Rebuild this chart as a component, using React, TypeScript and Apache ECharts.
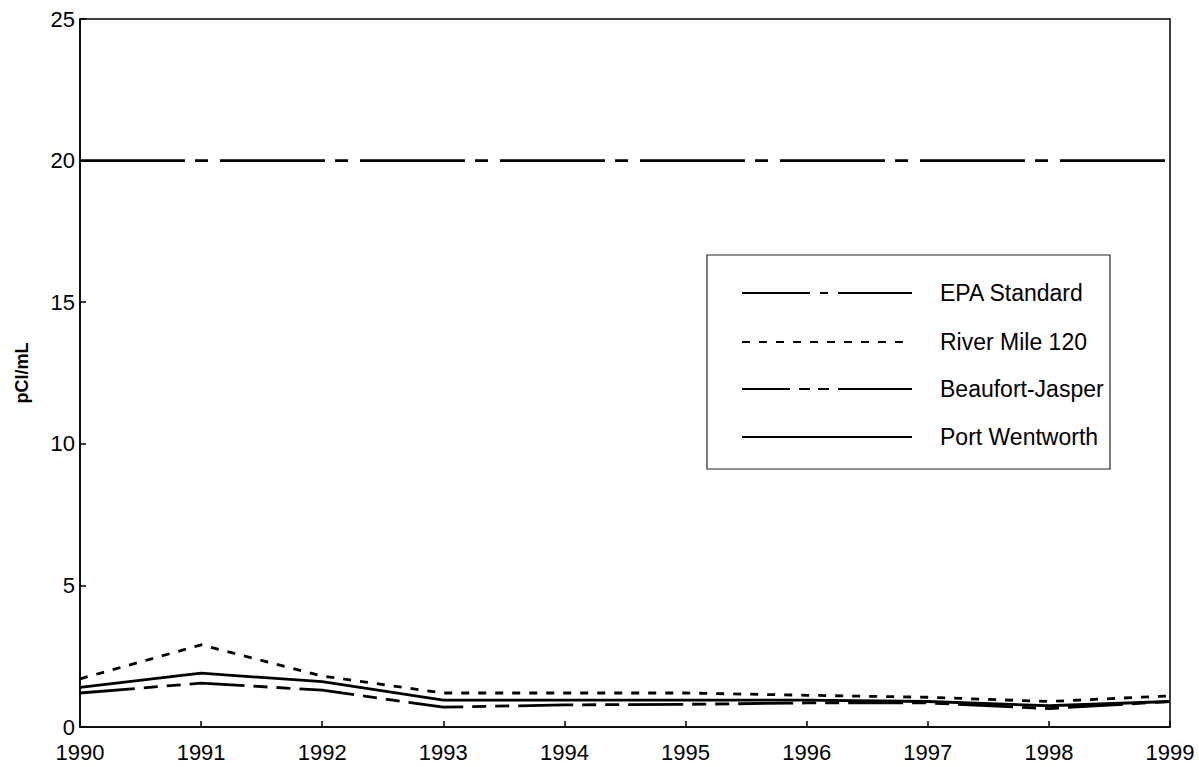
import React, { useEffect, useRef } from "react";
import * as echarts from "echarts";

const years = [1990, 1991, 1992, 1993, 1994, 1995, 1996, 1997, 1998, 1999];
const epaStandard = [20, 20, 20, 20, 20, 20, 20, 20, 20, 20];
const riverMile120 = [1.7, 2.9, 1.8, 1.2, 1.2, 1.2, 1.12, 1.05, 0.9, 1.1];
const beaufortJasper = [1.2, 1.55, 1.3, 0.7, 0.78, 0.8, 0.85, 0.85, 0.65, 0.9];
const portWentworth = [1.4, 1.9, 1.6, 0.95, 0.95, 0.95, 0.95, 0.9, 0.75, 0.9];
const seriesNames = ["EPA Standard", "River Mile 120", "Beaufort-Jasper", "Port Wentworth"];
const yTicks = [0, 5, 10, 15, 20, 25];

const FONT = "'Liberation Sans', Arial, Helvetica, sans-serif";

export default function App() {
  const ref = useRef<HTMLDivElement>(null);
  useEffect(() => {
    if (!ref.current) return;
    const chart = echarts.init(ref.current, undefined, { renderer: "svg" });
    const pair = (vals: number[]) => years.map((y, i) => [y, vals[i]]);
    const dashes: any[] = [
      [105, 10, 13, 12],
      [8, 9],
      [55, 9, 14, 9, 14, 9],
      "solid",
    ];
    const legendDashes: any[] = [
      [68, 10, 8, 10, 74],
      [8, 9],
      [48, 9, 11, 8, 11, 9, 74],
      [],
    ];
    const allVals = [epaStandard, riverMile120, beaufortJasper, portWentworth];
    const legendY = [293, 342, 389, 437];
    const graphics: any[] = [
      {
        type: "rect",
        shape: { x: 707, y: 255, width: 403, height: 214 },
        style: { fill: "#fff", stroke: "#222", lineWidth: 1.2 },
        z: 10,
      },
    ];
    seriesNames.forEach((n, i) => {
      graphics.push({
        type: "line",
        shape: { x1: 742, y1: legendY[i], x2: 912, y2: legendY[i] },
        style: { stroke: "#000", lineWidth: 1.8, lineDash: legendDashes[i] },
        z: 11,
      });
      graphics.push({
        type: "text",
        x: 940,
        y: legendY[i],
        style: {
          text: n,
          fill: "#000",
          font: `23px ${FONT}`,
          textVerticalAlign: "middle",
          verticalAlign: "middle",
        },
        z: 11,
      });
    });
    chart.setOption({
      animation: false,
      backgroundColor: "#fff",
      grid: {
        left: 80,
        right: 29,
        top: 19,
        bottom: 40,
        show: true,
        borderColor: "#000",
        borderWidth: 1.5,
        containLabel: false,
        outerBoundsMode: "none",
      },
      xAxis: {
        type: "value",
        min: 1990,
        max: 1999,
        interval: 1,
        axisLine: { show: true, lineStyle: { color: "#000", width: 1.5 } },
        axisTick: { show: true, inside: true, length: 6, lineStyle: { color: "#000", width: 1.5 } },
        axisLabel: {
          color: "#000",
          fontSize: 22,
          fontFamily: FONT,
          margin: 14,
          formatter: (v: number) => String(v),
        },
        splitLine: { show: false },
      },
      yAxis: {
        type: "value",
        min: 0,
        max: 25,
        interval: 5,
        name: "pCI/mL",
        nameLocation: "middle",
        nameGap: 49,
        nameRotate: 90,
        nameTextStyle: { color: "#000", fontSize: 18, fontWeight: "bold", fontFamily: FONT },
        axisLine: { show: true, lineStyle: { color: "#000", width: 1.5 } },
        axisTick: { show: true, inside: true, length: 6, lineStyle: { color: "#000", width: 1.5 } },
        axisLabel: {
          color: "#000",
          fontSize: 22,
          fontFamily: FONT,
          margin: 5,
          formatter: (v: number) => (yTicks.includes(v) ? String(v) : ""),
        },
        splitLine: { show: false },
      },
      series: seriesNames.map((n, i) => ({
        name: n,
        type: "line",
        data: pair(allVals[i]),
        symbol: "none",
        lineStyle: { color: "#000", width: 2.8, type: dashes[i] },
        z: 2,
      })),
      graphic: graphics,
    });
    return () => chart.dispose();
  }, []);
  return (
    <div
      ref={ref}
      style={{ position: "fixed", left: 0, top: 0, width: 1199, height: 767, background: "#fff" }}
    />
  );
}
